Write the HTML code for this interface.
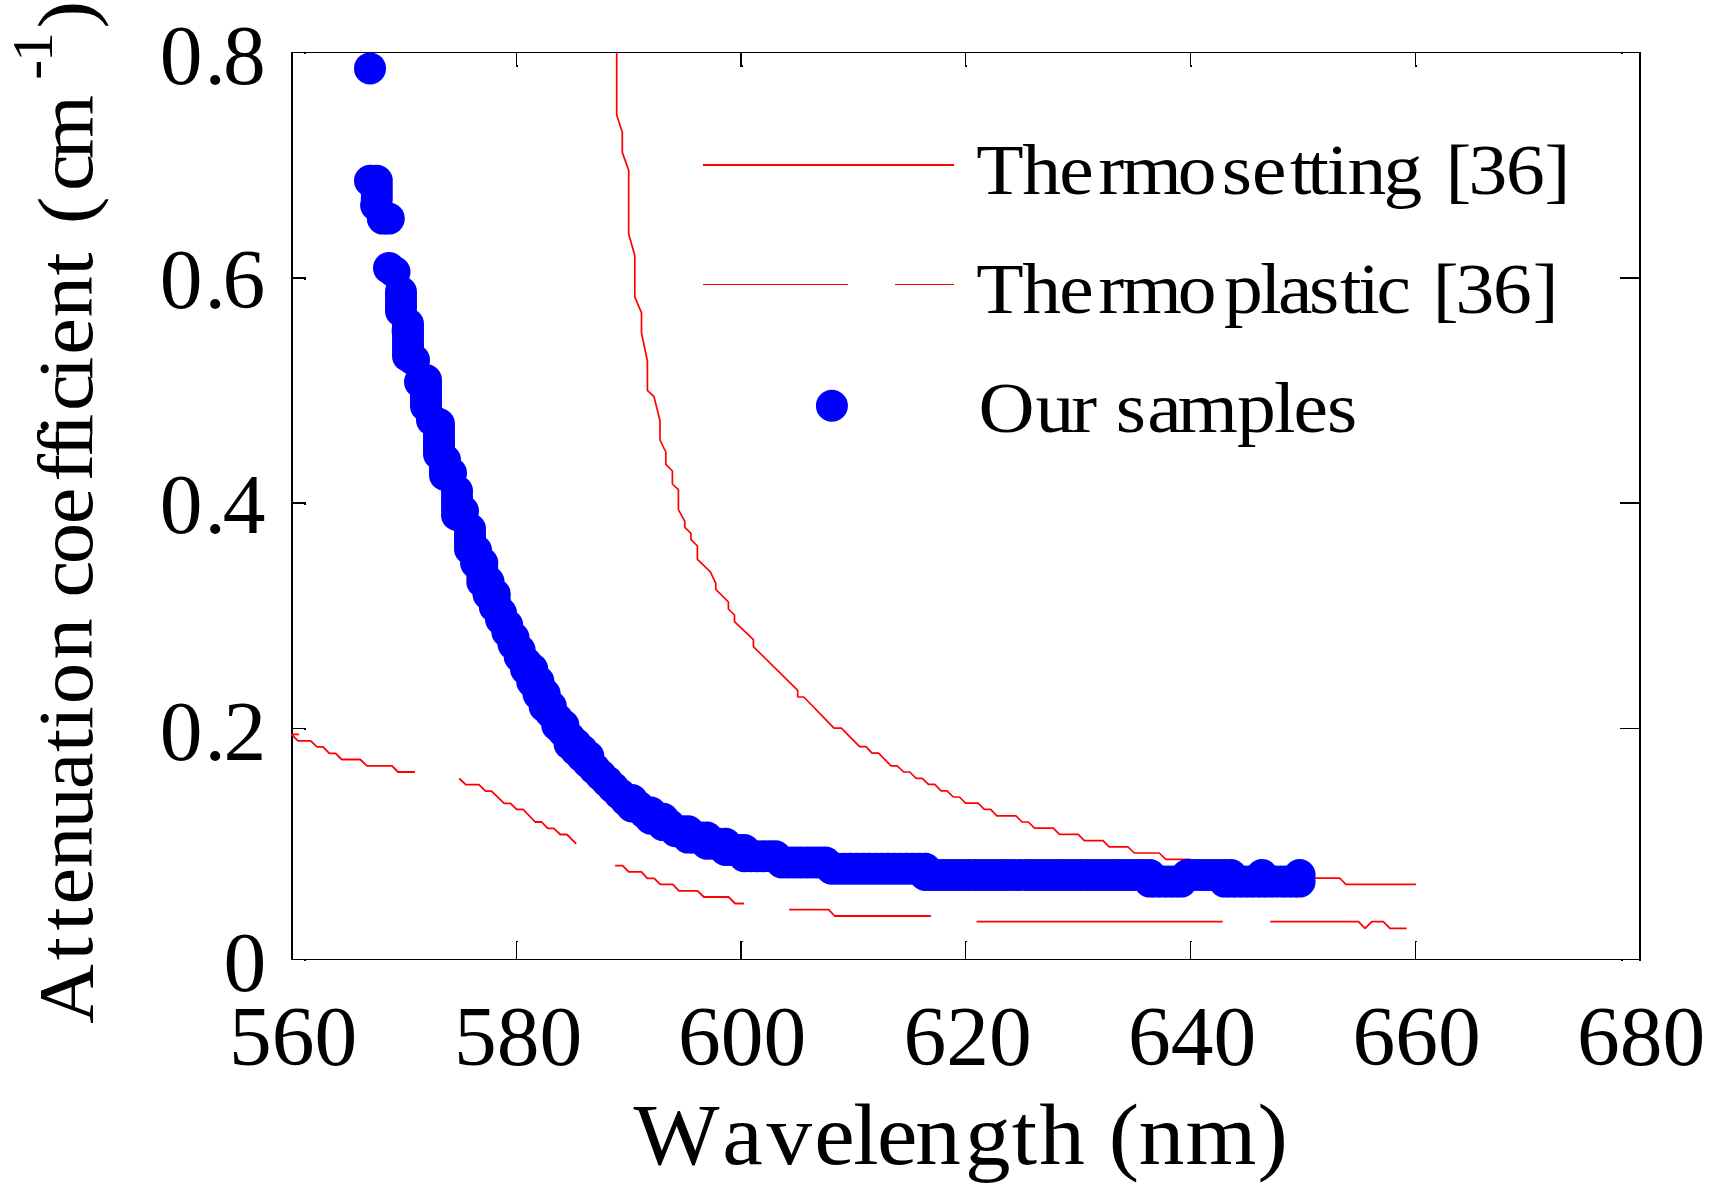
<!DOCTYPE html>
<html lang="en"><head><meta charset="utf-8"><title>Attenuation coefficient vs wavelength</title>
<style>html,body{margin:0;padding:0;background:#fff;overflow:hidden}svg{display:block}text{font-family:"Liberation Serif","DejaVu Serif",serif;fill:#000}</style></head><body>
<svg width="1720" height="1195" viewBox="0 0 1720 1195">
<rect width="1720" height="1195" fill="#fff"/>
<g fill="#000" shape-rendering="crispEdges">
<rect x="291" y="52" width="2" height="908"/>
<rect x="1639" y="52" width="2" height="909"/>
<rect x="291" y="52" width="1350" height="1"/>
<rect x="291" y="959" width="1350" height="1"/>
<rect x="516" y="941" width="1" height="18"/>
<rect x="517" y="941" width="1" height="1"/>
<rect x="516" y="53" width="1" height="14"/>
<rect x="517" y="65" width="1" height="2"/>
<rect x="740" y="941" width="2" height="18"/>
<rect x="742" y="941" width="1" height="1"/>
<rect x="740" y="53" width="2" height="14"/>
<rect x="742" y="65" width="1" height="2"/>
<rect x="965" y="941" width="1" height="18"/>
<rect x="966" y="941" width="1" height="1"/>
<rect x="965" y="53" width="1" height="14"/>
<rect x="966" y="65" width="1" height="2"/>
<rect x="1190" y="941" width="1" height="18"/>
<rect x="1191" y="941" width="1" height="1"/>
<rect x="1190" y="53" width="1" height="14"/>
<rect x="1191" y="65" width="1" height="2"/>
<rect x="1415" y="941" width="1" height="18"/>
<rect x="1416" y="941" width="1" height="1"/>
<rect x="1415" y="53" width="1" height="14"/>
<rect x="1416" y="65" width="1" height="2"/>
<rect x="293" y="277" width="13" height="2"/>
<rect x="304" y="279" width="2" height="1"/>
<rect x="1620" y="277" width="19" height="2"/>
<rect x="293" y="502" width="13" height="2"/>
<rect x="304" y="504" width="2" height="1"/>
<rect x="1620" y="502" width="19" height="2"/>
<rect x="293" y="728" width="13" height="1"/>
<rect x="304" y="729" width="2" height="1"/>
<rect x="1620" y="728" width="19" height="1"/>
<rect x="304" y="53" width="2" height="1"/>
<rect x="304" y="960" width="2" height="1"/>
<rect x="1621" y="53" width="2" height="1"/>
<rect x="1621" y="960" width="2" height="1"/>
</g>
<polyline fill="none" stroke="#f00" stroke-width="1.7" stroke-linejoin="bevel" points="616.7,52.6 616.7,114.9 622.3,132.3 622.3,152.4 628.7,170.3 628.7,234.0 634.8,255.4 634.8,296.9 641.5,312.9 641.5,333.0 647.4,361.0 647.4,390.3 654.0,396.6 660.0,420.7 660.0,440.0 665.8,452.0 665.8,464.4 672.4,471.0 672.4,484.0 678.4,489.7 678.4,509.6 684.8,521.3 684.8,527.3 691.0,533.4 691.0,539.7 697.4,546.0 697.4,559.3 710.4,571.9 715.8,583.4 715.8,589.4 728.4,602.0 728.4,609.0 734.5,615.0 734.5,621.6 753.4,639.7 753.4,646.6 797.7,690.4 797.7,697.0 803.8,697.0 834.0,728.2 841.4,728.2 859.6,746.7 866.0,746.7 872.0,753.2 878.6,753.2 891.0,765.8 897.2,765.8 903.7,772.0 909.7,772.0 916.2,778.3 922.3,778.3 928.5,784.4 934.8,784.4 941.1,790.9 947.0,790.9 953.4,797.0 959.5,797.0 965.5,803.2 978.1,803.2 984.3,809.3 990.6,809.3 996.9,815.8 1016.0,815.8 1022.0,822.0 1028.2,822.0 1034.6,828.2 1053.3,828.2 1059.5,834.3 1078.2,834.3 1084.3,840.7 1103.0,840.7 1109.2,846.9 1127.9,846.9 1134.3,853.0 1159.2,853.0 1165.9,859.4 1190.0,859.4 1196.0,865.6 1240.0,865.6 1246.0,871.9 1290.0,871.9 1296.0,878.2 1339.7,878.2 1345.9,884.3 1416.0,884.3"/>
<polyline fill="none" stroke="#f00" stroke-width="1.8" stroke-linejoin="bevel" points="299.0,734.4 291.5,734.4 298.0,740.9 310.7,740.9 317.0,746.9 323.1,746.9 329.3,753.4 335.6,753.4 341.7,759.5 360.3,759.5 366.9,765.9 392.0,765.9 398.1,772.0 414.9,772.0"/>
<polyline fill="none" stroke="#f00" stroke-width="1.8" stroke-linejoin="bevel" points="459.3,778.5 465.8,784.7 478.9,784.7 485.6,791.2 491.5,791.2 504.2,803.4 510.5,803.4 516.6,809.4 523.1,809.4 535.2,822.0 541.7,822.0 547.7,828.4 553.8,828.4 560.3,834.5 566.9,834.5 576.2,843.8"/>
<polyline fill="none" stroke="#f00" stroke-width="1.8" stroke-linejoin="bevel" points="615.1,865.7 622.6,865.7 628.7,871.9 641.5,871.9 647.3,878.4 654.2,878.4 660.3,884.3 672.8,884.3 678.9,890.8 697.5,890.8 703.9,897.0 728.6,897.0 735.1,903.5 743.9,903.5"/>
<polyline fill="none" stroke="#f00" stroke-width="1.8" stroke-linejoin="bevel" points="789.1,909.6 828.7,909.6 834.7,916.0 930.9,916.0"/>
<polyline fill="none" stroke="#f00" stroke-width="1.8" stroke-linejoin="bevel" points="976.6,921.7 1222.8,921.7"/>
<polyline fill="none" stroke="#f00" stroke-width="1.8" stroke-linejoin="bevel" points="1270.2,921.7 1358.4,921.7 1365.1,928.4 1371.8,921.7 1383.3,921.7 1390.0,928.4 1406.6,928.4"/>
<g fill="#00f">
<circle cx="370.0" cy="68.4" r="16"/><circle cx="370.0" cy="180.8" r="16"/><circle cx="376.8" cy="180.8" r="16"/><circle cx="376.8" cy="186.9" r="16"/><circle cx="376.8" cy="193.0" r="16"/><circle cx="376.8" cy="199.1" r="16"/><circle cx="376.1" cy="205.2" r="16"/><circle cx="382.8" cy="218.6" r="16"/><circle cx="388.8" cy="218.6" r="16"/><circle cx="389.0" cy="268.0" r="16"/><circle cx="394.5" cy="272.0" r="16"/><circle cx="401.0" cy="292.0" r="16"/><circle cx="401.0" cy="296.8" r="16"/><circle cx="401.0" cy="301.5" r="16"/><circle cx="401.0" cy="306.2" r="16"/><circle cx="401.0" cy="311.0" r="16"/><circle cx="407.6" cy="331.0" r="16"/><circle cx="408.0" cy="324.0" r="16"/><circle cx="408.0" cy="329.3" r="16"/><circle cx="408.0" cy="334.7" r="16"/><circle cx="408.0" cy="340.0" r="16"/><circle cx="408.0" cy="345.3" r="16"/><circle cx="408.0" cy="350.7" r="16"/><circle cx="408.0" cy="356.0" r="16"/><circle cx="414.0" cy="360.0" r="16"/><circle cx="420.0" cy="382.0" r="16"/><circle cx="426.0" cy="380.0" r="16"/><circle cx="426.0" cy="384.3" r="16"/><circle cx="426.0" cy="388.7" r="16"/><circle cx="426.0" cy="393.0" r="16"/><circle cx="426.0" cy="397.3" r="16"/><circle cx="426.0" cy="401.7" r="16"/><circle cx="426.0" cy="406.0" r="16"/><circle cx="432.0" cy="420.0" r="16"/><circle cx="439.0" cy="424.0" r="16"/><circle cx="439.0" cy="429.3" r="16"/><circle cx="439.0" cy="434.7" r="16"/><circle cx="439.0" cy="440.0" r="16"/><circle cx="439.0" cy="444.7" r="16"/><circle cx="439.0" cy="449.3" r="16"/><circle cx="439.0" cy="454.0" r="16"/><circle cx="445.0" cy="460.0" r="16"/><circle cx="445.0" cy="465.0" r="16"/><circle cx="445.0" cy="470.0" r="16"/><circle cx="445.0" cy="475.0" r="16"/><circle cx="451.0" cy="473.0" r="16"/><circle cx="457.0" cy="491.0" r="16"/><circle cx="457.0" cy="497.0" r="16"/><circle cx="457.0" cy="503.0" r="16"/><circle cx="457.0" cy="509.0" r="16"/><circle cx="457.0" cy="515.0" r="16"/><circle cx="463.0" cy="511.0" r="16"/><circle cx="470.0" cy="529.0" r="16"/><circle cx="470.0" cy="534.5" r="16"/><circle cx="470.0" cy="540.0" r="16"/><circle cx="470.0" cy="544.5" r="16"/><circle cx="470.0" cy="549.0" r="16"/><circle cx="475.4" cy="551.0" r="16"/><circle cx="476.1" cy="563.0" r="16"/><circle cx="476.1" cy="556.8" r="16"/><circle cx="476.1" cy="550.6" r="16"/><circle cx="482.3" cy="581.8" r="16"/><circle cx="482.3" cy="575.5" r="16"/><circle cx="482.3" cy="569.3" r="16"/><circle cx="482.3" cy="563.0" r="16"/><circle cx="488.5" cy="594.2" r="16"/><circle cx="488.5" cy="588.0" r="16"/><circle cx="488.5" cy="581.8" r="16"/><circle cx="494.8" cy="606.7" r="16"/><circle cx="494.8" cy="600.5" r="16"/><circle cx="494.8" cy="594.2" r="16"/><circle cx="501.0" cy="619.2" r="16"/><circle cx="501.0" cy="613.0" r="16"/><circle cx="507.3" cy="631.7" r="16"/><circle cx="507.3" cy="625.4" r="16"/><circle cx="513.5" cy="644.2" r="16"/><circle cx="513.5" cy="637.9" r="16"/><circle cx="519.7" cy="656.6" r="16"/><circle cx="519.7" cy="650.4" r="16"/><circle cx="526.0" cy="669.1" r="16"/><circle cx="526.0" cy="662.9" r="16"/><circle cx="532.2" cy="681.6" r="16"/><circle cx="532.2" cy="675.4" r="16"/><circle cx="532.2" cy="669.1" r="16"/><circle cx="538.5" cy="694.1" r="16"/><circle cx="538.5" cy="687.8" r="16"/><circle cx="538.5" cy="681.6" r="16"/><circle cx="544.7" cy="706.5" r="16"/><circle cx="544.7" cy="700.3" r="16"/><circle cx="544.7" cy="694.1" r="16"/><circle cx="550.9" cy="712.8" r="16"/><circle cx="550.9" cy="706.5" r="16"/><circle cx="557.2" cy="725.3" r="16"/><circle cx="557.2" cy="719.0" r="16"/><circle cx="563.4" cy="731.5" r="16"/><circle cx="563.4" cy="725.3" r="16"/><circle cx="569.6" cy="744.0" r="16"/><circle cx="569.6" cy="737.7" r="16"/><circle cx="575.9" cy="750.2" r="16"/><circle cx="575.9" cy="744.0" r="16"/><circle cx="582.1" cy="756.5" r="16"/><circle cx="582.1" cy="750.2" r="16"/><circle cx="588.4" cy="762.7" r="16"/><circle cx="588.4" cy="756.5" r="16"/><circle cx="594.6" cy="768.9" r="16"/><circle cx="600.8" cy="775.2" r="16"/><circle cx="607.1" cy="781.4" r="16"/><circle cx="613.3" cy="787.7" r="16"/><circle cx="619.6" cy="793.9" r="16"/><circle cx="625.8" cy="800.1" r="16"/><circle cx="632.0" cy="806.4" r="16"/><circle cx="632.0" cy="800.1" r="16"/><circle cx="638.3" cy="806.4" r="16"/><circle cx="644.5" cy="812.6" r="16"/><circle cx="650.8" cy="818.8" r="16"/><circle cx="650.8" cy="812.6" r="16"/><circle cx="657.0" cy="818.8" r="16"/><circle cx="663.2" cy="825.1" r="16"/><circle cx="663.2" cy="818.8" r="16"/><circle cx="669.5" cy="825.1" r="16"/><circle cx="675.7" cy="831.3" r="16"/><circle cx="682.0" cy="831.3" r="16"/><circle cx="688.2" cy="837.6" r="16"/><circle cx="688.2" cy="831.3" r="16"/><circle cx="694.4" cy="837.6" r="16"/><circle cx="700.7" cy="837.6" r="16"/><circle cx="706.9" cy="843.8" r="16"/><circle cx="706.9" cy="837.6" r="16"/><circle cx="713.1" cy="843.8" r="16"/><circle cx="719.4" cy="843.8" r="16"/><circle cx="725.6" cy="850.0" r="16"/><circle cx="725.6" cy="843.8" r="16"/><circle cx="731.9" cy="850.0" r="16"/><circle cx="738.1" cy="850.0" r="16"/><circle cx="744.3" cy="856.3" r="16"/><circle cx="744.3" cy="850.0" r="16"/><circle cx="750.6" cy="856.3" r="16"/><circle cx="756.8" cy="856.3" r="16"/><circle cx="763.1" cy="856.3" r="16"/><circle cx="769.3" cy="856.3" r="16"/><circle cx="775.5" cy="856.3" r="16"/><circle cx="781.8" cy="862.5" r="16"/><circle cx="788.0" cy="862.5" r="16"/><circle cx="794.3" cy="862.5" r="16"/><circle cx="800.5" cy="862.5" r="16"/><circle cx="806.7" cy="862.5" r="16"/><circle cx="813.0" cy="862.5" r="16"/><circle cx="819.2" cy="862.5" r="16"/><circle cx="825.4" cy="862.5" r="16"/><circle cx="831.7" cy="868.8" r="16"/><circle cx="837.9" cy="868.8" r="16"/><circle cx="844.2" cy="868.8" r="16"/><circle cx="850.4" cy="868.8" r="16"/><circle cx="856.6" cy="868.8" r="16"/><circle cx="862.9" cy="868.8" r="16"/><circle cx="869.1" cy="868.8" r="16"/><circle cx="875.4" cy="868.8" r="16"/><circle cx="881.6" cy="868.8" r="16"/><circle cx="887.8" cy="868.8" r="16"/><circle cx="894.1" cy="868.8" r="16"/><circle cx="900.3" cy="868.8" r="16"/><circle cx="906.6" cy="868.8" r="16"/><circle cx="912.8" cy="868.8" r="16"/><circle cx="919.0" cy="868.8" r="16"/><circle cx="925.3" cy="875.0" r="16"/><circle cx="925.3" cy="868.8" r="16"/><circle cx="931.5" cy="875.0" r="16"/><circle cx="937.7" cy="875.0" r="16"/><circle cx="944.0" cy="875.0" r="16"/><circle cx="950.2" cy="875.0" r="16"/><circle cx="956.5" cy="875.0" r="16"/><circle cx="962.7" cy="875.0" r="16"/><circle cx="968.9" cy="875.0" r="16"/><circle cx="975.2" cy="875.0" r="16"/><circle cx="981.4" cy="875.0" r="16"/><circle cx="987.7" cy="875.0" r="16"/><circle cx="993.9" cy="875.0" r="16"/><circle cx="1000.1" cy="875.0" r="16"/><circle cx="1006.4" cy="875.0" r="16"/><circle cx="1012.6" cy="875.0" r="16"/><circle cx="1018.9" cy="875.0" r="16"/><circle cx="1025.1" cy="875.0" r="16"/><circle cx="1031.3" cy="875.0" r="16"/><circle cx="1037.6" cy="875.0" r="16"/><circle cx="1043.8" cy="875.0" r="16"/><circle cx="1050.1" cy="875.0" r="16"/><circle cx="1056.3" cy="875.0" r="16"/><circle cx="1062.5" cy="875.0" r="16"/><circle cx="1068.8" cy="875.0" r="16"/><circle cx="1075.0" cy="875.0" r="16"/><circle cx="1081.2" cy="875.0" r="16"/><circle cx="1087.5" cy="875.0" r="16"/><circle cx="1093.7" cy="875.0" r="16"/><circle cx="1100.0" cy="875.0" r="16"/><circle cx="1106.2" cy="875.0" r="16"/><circle cx="1112.4" cy="875.0" r="16"/><circle cx="1118.7" cy="875.0" r="16"/><circle cx="1124.9" cy="875.0" r="16"/><circle cx="1131.2" cy="875.0" r="16"/><circle cx="1137.4" cy="875.0" r="16"/><circle cx="1143.6" cy="875.0" r="16"/><circle cx="1149.9" cy="875.0" r="16"/><circle cx="1149.9" cy="881.6" r="16"/><circle cx="1156.1" cy="881.6" r="16"/><circle cx="1162.4" cy="881.6" r="16"/><circle cx="1168.6" cy="881.6" r="16"/><circle cx="1174.8" cy="881.6" r="16"/><circle cx="1181.1" cy="881.6" r="16"/><circle cx="1187.3" cy="875.0" r="16"/><circle cx="1193.5" cy="875.0" r="16"/><circle cx="1199.8" cy="875.0" r="16"/><circle cx="1206.0" cy="875.0" r="16"/><circle cx="1212.3" cy="875.0" r="16"/><circle cx="1218.5" cy="875.0" r="16"/><circle cx="1224.7" cy="875.0" r="16"/><circle cx="1224.7" cy="881.6" r="16"/><circle cx="1231.0" cy="875.0" r="16"/><circle cx="1231.0" cy="881.6" r="16"/><circle cx="1237.2" cy="881.6" r="16"/><circle cx="1243.5" cy="881.6" r="16"/><circle cx="1249.7" cy="881.6" r="16"/><circle cx="1255.9" cy="881.6" r="16"/><circle cx="1262.2" cy="881.6" r="16"/><circle cx="1268.4" cy="881.6" r="16"/><circle cx="1274.7" cy="881.6" r="16"/><circle cx="1280.9" cy="881.6" r="16"/><circle cx="1287.1" cy="881.6" r="16"/><circle cx="1293.4" cy="881.6" r="16"/><circle cx="1299.6" cy="881.6" r="16"/><circle cx="1262.0" cy="875.0" r="16"/><circle cx="1299.6" cy="875.0" r="16"/>
</g>
<rect x="703" y="163.5" width="251" height="2" fill="#f00" shape-rendering="crispEdges"/>
<rect x="703" y="284" width="145" height="1" fill="#f00" shape-rendering="crispEdges"/>
<rect x="895" y="284" width="59" height="1" fill="#f00" shape-rendering="crispEdges"/>
<circle cx="831.9" cy="405.8" r="16" fill="#00f"/>
<text transform="scale(1.07,1)" x="912.4 955.3 989.9 1026.3 1048.2 1100.6 1141.9 1170.0 1205.7 1221.7 1239.9 1259.4 1292.9 1342.9 1350.9 1372.4 1407.4 1443.5" y="194" font-size="72.5">Thermosetting [36]</text>
<text transform="scale(1.07,1)" x="912.4 955.3 989.9 1026.3 1048.2 1100.6 1144.0 1177.5 1194.4 1223.3 1252.3 1269.5 1286.4 1330.4 1339.1 1360.4 1395.4 1432.4" y="313.5" font-size="72.5">Thermoplastic [36]</text>
<text transform="scale(1.07,1)" x="914.4 967.7 1001.1 1035.8 1042.7 1072.1 1100.5 1156.1 1190.7 1209.0 1240.1" y="432" font-size="72.5">Our samples</text>
<text x="159.7 204.4 223.0" y="83.5" font-size="85.5">0.8</text>
<text x="159.7 204.4 222.4" y="308" font-size="85.5">0.6</text>
<text x="159.7 204.4 222.8" y="533" font-size="85.5">0.4</text>
<text x="159.7 204.4 223.5" y="760" font-size="85.5">0.2</text>
<text x="223.6" y="991" font-size="85.5">0</text>
<text x="293" y="1064.5" font-size="85.5" text-anchor="middle">560</text>
<text x="518" y="1064.5" font-size="85.5" text-anchor="middle">580</text>
<text x="742" y="1064.5" font-size="85.5" text-anchor="middle">600</text>
<text x="967.5" y="1064.5" font-size="85.5" text-anchor="middle">620</text>
<text x="1192" y="1064.5" font-size="85.5" text-anchor="middle">640</text>
<text x="1416.5" y="1064.5" font-size="85.5" text-anchor="middle">660</text>
<text x="1641" y="1064.5" font-size="85.5" text-anchor="middle">680</text>
<text transform="scale(1.06,1)" x="597.7 681.4 723.1 768.1 805.0 827.4 863.4 910.4 954.4 980.5 1038.7 1045.9 1074.4 1118.5 1186.3" y="1164" font-size="86">Wavelength (nm)</text>
<text transform="translate(91.8,0) rotate(-90) scale(1.06,1)" y="0" font-size="78" x="-965.9 -905.9 -877.9 -853.2 -818.8 -781.6 -744.6 -709.5 -688.1 -664.4 -622.1 -571.0 -563.6 -532.4 -494.6 -454.3 -431.6 -412.1 -387.7 -358.3 -334.7 -299.5 -259.9 -223.4 -211.4 -180.3 -150.2">Attenuation coefficient (cm<tspan x="-84.9"> </tspan><tspan font-size="56.5" y="-39.5" x="-75.3 -58.4">-1</tspan><tspan y="0" x="-26.8">)</tspan></text>
</svg></body></html>
